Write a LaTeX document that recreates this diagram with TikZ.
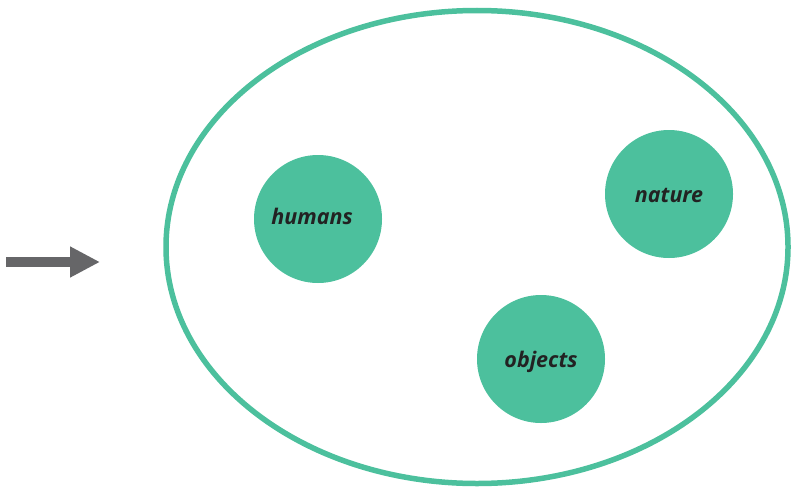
\documentclass[tikz,border=0pt]{standalone}
\usepackage{fontspec}
\setmainfont{Open Sans}
\usetikzlibrary{arrows.meta,shapes.geometric}
\definecolor{blobgreen}{HTML}{4CC09D}
\definecolor{ink}{HTML}{222222}
\definecolor{arrowgray}{HTML}{666668}
\tikzset{
  blob/.style={circle, fill=blobgreen, minimum size=128pt, inner sep=0pt},
  blobtext/.style={font=\fontsize{21.5}{26}\selectfont\bfseries\itshape, text=ink, inner sep=0pt},
  frame/.style={draw=blobgreen, line width=5.5pt},
  bigarrow/.style={draw=arrowgray, line width=10pt,
    -{Triangle[length=30pt,width=29pt]}}
}
\begin{document}
\begin{tikzpicture}[x=1pt,y=-1pt]
\useasboundingbox (0,0) rectangle (791,487);
\node[frame, ellipse, minimum width=622pt, minimum height=473pt, inner sep=0pt] (world) at (477,247) {};
\node[blob] (humans) at (318,219) {};
\node[blob] (nature) at (669,194) {};
\node[blob] (objects) at (541,359) {};
\node[blobtext] (humanslabel) at ([xshift=-6pt,yshift=3pt]humans.center) {humans};
\node[blobtext] (naturelabel) at ([yshift=-1pt]nature.center) {nature};
\node[blobtext] (objectslabel) at ([yshift=-3pt]objects.center) {objects};
\coordinate (a) at (6,262);
\coordinate (b) at (100,262);
\draw[bigarrow] (a) -- (b);
\end{tikzpicture}
\end{document}
